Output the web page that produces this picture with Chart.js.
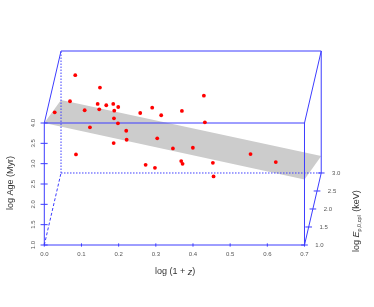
<!DOCTYPE html>
<html>
<head>
<meta charset="utf-8">
<script src="https://cdn.jsdelivr.net/npm/chart.js@4"></script>
<style>
html, body { margin: 0; padding: 0; background: #fff; }
canvas { display: block; }
</style>
</head>
<body>
<canvas id="planeChart" width="374" height="307"></canvas>
<script>
const xTicks = [0, 0.1, 0.2, 0.3, 0.4, 0.5, 0.6, 0.7];
const ageTicks = [1, 1.5, 2, 2.5, 3, 3.5, 4];
const energyTicks = [1, 1.5, 2, 2.5, 3];

// points as seen on the projected picture
const pointX = [0.0833, 0.1497, 0.0691, 0.028, 0.1086, 0.1435, 0.1478, 0.1667, 0.1855, 0.1882, 0.1989, 0.1874,
    0.1981, 0.2204, 0.2215, 0.1866, 0.1228, 0.0852, 0.2581, 0.2903, 0.3145, 0.3702, 0.3038, 0.346,
    0.3683, 0.372, 0.2726, 0.2976, 0.4293, 0.432, 0.3997, 0.5548, 0.6228, 0.4535, 0.4554];
const pointY = [5.175, 4.87, 4.535, 4.263, 4.313, 4.468, 4.337, 4.436, 4.468, 4.303, 4.394, 4.116,
    3.992, 3.81, 3.588, 3.507, 3.894, 3.228, 4.246, 4.377, 4.19, 4.296, 3.623, 3.376,
    3.063, 2.997, 2.972, 2.898, 4.673, 4.017, 3.391, 3.236, 3.038, 3.021, 2.686];

// grey plane corners
const planeX = [0, 0.045, 0.745, 0.7];
const planeY = [4, 4.567, 3.186, 2.612];

// how far the back of the box is shifted on the page
const depthShiftX = 0.045;
const depthShiftY = 1.7705;
const xMax = 0.7452;
const yMax = 5.7705;
const blue = '#3c3cff';

function project(x, age, energy) {
    const f = (energy - 1) / 2;
    return { x: x + depthShiftX * f, y: age + depthShiftY * f };
}

function seg(a, b) {
    return [project(a[0], a[1], a[2]), project(b[0], b[1], b[2]), { x: null, y: null }];
}

const solidBox = [].concat(
    seg([0, 1, 1], [0, 4, 1]),
    seg([0, 4, 1], [0.7, 4, 1]),
    seg([0.7, 1, 1], [0.7, 4, 1]),
    seg([0, 1, 1], [0.7, 1, 1]),
    seg([0, 4, 3], [0.7, 4, 3]),
    seg([0.7, 1, 3], [0.7, 4, 3]),
    seg([0, 4, 1], [0, 4, 3]),
    seg([0.7, 4, 1], [0.7, 4, 3]),
    seg([0.7, 1, 1], [0.7, 1, 3])
);
const dottedBox = [].concat(
    seg([0, 1, 3], [0, 4, 3]),
    seg([0, 1, 3], [0.7, 1, 3])
);
const dashedBox = seg([0, 1, 1], [0, 1, 3]);

let tickMarks = [];
xTicks.forEach(function(t) {
    tickMarks.push({ x: t, y: 0.96 }, { x: t, y: 1.04 }, { x: null, y: null });
});
ageTicks.forEach(function(t) {
    tickMarks.push({ x: -0.01, y: t }, { x: 0.009, y: t }, { x: null, y: null });
});
energyTicks.forEach(function(t) {
    const p = project(0.7, 1, t);
    tickMarks.push({ x: p.x - 0.009, y: p.y }, { x: p.x + 0.009, y: p.y }, { x: null, y: null });
});

function lineSet(data, dash) {
    return {
        type: 'scatter', data: data, showLine: true, borderColor: blue, borderWidth: 1,
        borderDash: dash, pointRadius: 0, clip: false, spanGaps: false
    };
}

// pieces the scales can't do: third axis labels and the mixed italic titles
const textPlugin = {
    id: 'textPlugin',
    afterDraw: function(chart) {
        const c = chart.ctx;
        const sx = chart.scales.x, sy = chart.scales.y;
        c.save();
        c.fillStyle = '#555';
        c.font = '6px "Liberation Sans"';
        c.textAlign = 'center';
        c.textBaseline = 'middle';
        energyTicks.forEach(function(t) {
            const p = project(0.7, 1, t);
            c.fillText(t.toFixed(1), sx.getPixelForValue(p.x) + 15, sy.getPixelForValue(p.y));
        });

        c.fillStyle = '#333';
        c.font = '9px "Liberation Sans"';
        c.save();
        c.translate(10.5, 183);
        c.rotate(-Math.PI / 2);
        c.fillText('log Age (Myr)', 0, 0);
        c.restore();

        // x title
        c.textAlign = 'left';
        let px = 155;
        c.fillText('log (1 + ', px, 272);
        px += c.measureText('log (1 + ').width;
        c.font = 'italic 9px "Liberation Sans"';
        c.fillText('z', px, 272);
        px += c.measureText('z').width;
        c.font = '9px "Liberation Sans"';
        c.fillText(')', px, 272);

        // right title
        c.translate(356.5, 252);
        c.rotate(-Math.PI / 2);
        px = 0;
        c.fillText('log ', px, 0);
        px += c.measureText('log ').width;
        c.font = 'italic 9px "Liberation Sans"';
        c.fillText('E', px, 0);
        px += c.measureText('E').width;
        c.font = '5.5px "Liberation Sans"';
        c.fillText('p,0,cpl', px, 3);
        px += c.measureText('p,0,cpl').width + 1;
        c.font = '9px "Liberation Sans"';
        c.fillText(' (keV)', px, 0);
        c.restore();
    }
};

new Chart(document.getElementById('planeChart').getContext('2d'), {
    data: {
        datasets: [
            { type: 'scatter', data: pointX.map(function(v, i) { return { x: v, y: pointY[i] }; }),
              backgroundColor: '#ff0000', borderColor: '#ff0000', pointRadius: 1.9, pointBorderWidth: 0, clip: false, order: 1 },
            Object.assign(lineSet(solidBox, []), { order: 2 }),
            Object.assign(lineSet(dottedBox, [1.5, 1.5]), { order: 2 }),
            Object.assign(lineSet(dashedBox, [3, 2]), { order: 2 }),
            Object.assign(lineSet(tickMarks, []), { order: 2 }),
            { type: 'scatter', data: planeX.map(function(v, i) { return { x: v, y: planeY[i] }; }),
              showLine: true, fill: 'shape', backgroundColor: '#cccccc', borderWidth: 0, pointRadius: 0, clip: false, order: 3 }
        ]
    },
    options: {
        responsive: false,
        animation: false,
        layout: { padding: { top: 51, right: 52.7 } },
        plugins: { legend: { display: false }, tooltip: { enabled: false } },
        scales: {
            x: {
                type: 'linear', min: 0, max: xMax,
                grid: { display: false, tickLength: 6 },
                border: { display: false },
                afterBuildTicks: function(s) { s.ticks = xTicks.map(function(v) { return { value: v }; }); },
                afterFit: function(s) { s.height = 62; },
                ticks: {
                    color: '#555', padding: 0, maxRotation: 0, autoSkip: false,
                    font: { family: 'Liberation Sans', size: 6 },
                    callback: function(v) { return v.toFixed(1); }
                }
            },
            y: {
                type: 'linear', min: 1, max: yMax,
                grid: { display: false, tickLength: 7 },
                border: { display: false },
                afterBuildTicks: function(s) { s.ticks = ageTicks.map(function(v) { return { value: v }; }); },
                afterFit: function(s) { s.width = 44.3; },
                ticks: {
                    color: '#555', padding: 0, minRotation: 90, maxRotation: 90, autoSkip: false, crossAlign: 'center',
                    font: { family: 'Liberation Sans', size: 6 },
                    callback: function(v) { return v.toFixed(1); }
                }
            }
        }
    },
    plugins: [textPlugin]
});
</script>
</body>
</html>
